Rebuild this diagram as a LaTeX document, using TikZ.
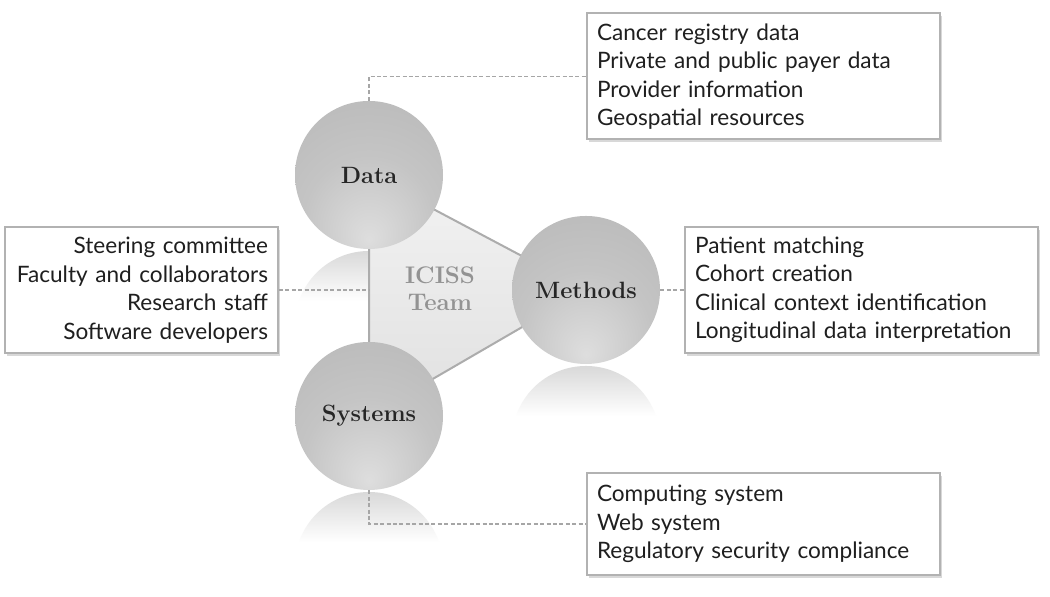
\documentclass[tikz,border=0pt]{standalone}
\usepackage{fontspec}
\newfontfamily\boxfont{Lato}
\usetikzlibrary{shadows}
% Kugel mit Lichtfleck unten
\pgfdeclareradialshading{sphere}{\pgfpoint{0bp}{-22bp}}{color(0bp)=(gray!26);color(22bp)=(gray!46);color(50bp)=(gray!58);color(75bp)=(gray!72)}
\tikzset{
  ball/.style={circle,minimum size=74pt,inner sep=0pt,shade,shading=sphere,
    font=\bfseries\fontsize{11.8}{13}\selectfont,text=black!85},
  infobox/.style={draw=gray!60,line width=1pt,fill=white,
    drop shadow={opacity=0.3,shadow xshift=1pt,shadow yshift=-1.5pt},
    inner sep=5pt,minimum height=63pt,text=black!88,
    font=\boxfont\fontsize{11.3}{14.25}\selectfont},
  link/.style={draw=gray!70,dash pattern=on 2pt off 1.2pt,line width=0.8pt}
}
\begin{document}
\begin{tikzpicture}[x=0.5pt,y=0.5pt]
\fill[white] (0,0) rectangle (1050,597);
\useasboundingbox (0,0) rectangle (1050,597);
\coordinate (d) at (369,422);
\coordinate (m) at (586,307);
\coordinate (s) at (369,181);

%Spiegelbilder
\foreach \cx/\cy in {369/422,586/307,369/181}{
  \begin{scope}
    \clip (\cx-80,\cy-74) rectangle (\cx+80,\cy-130);
    \clip (\cx,\cy-150) circle[radius=74];
    \shade[top color=gray!30,bottom color=white] (\cx-80,\cy-76) rectangle (\cx+80,\cy-126);
  \end{scope}
}

%Dreieck
\shade[top color=gray!10,bottom color=gray!24] (d) -- (m) -- (s) -- cycle;
\draw[gray!65,line width=1pt] (d) -- (m) -- (s) -- cycle;
\node[font=\bfseries\fontsize{12}{13.5}\selectfont,text=gray!85,align=center] (team) at (440,308) {ICISS\\Team};

\node[ball] (data) at (d) {Data};
\node[ball] (methods) at (m) {Methods};
\node[ball] (systems) at (s) {Systems};

\node[infobox,text width=166.5pt,align=left] (databox) at (763.5,520.5)
  {Cancer registry data\\Private and public payer data\\Provider information\\Geospatial resources};
\node[infobox,text width=166.5pt,align=left] (methodsbox) at (861.5,307)
  {Patient matching\\Cohort creation\\Clinical context identification\\Longitudinal data interpretation};
\node[infobox,text width=126.5pt,align=right] (teambox) at (141.5,307)
  {Steering committee\\Faculty and collaborators\\Research staff\\Software developers};
\node[infobox,text width=166.5pt,align=left,minimum height=51pt] (sysbox) at (763.5,73)
  {Computing system\\Web system\\Regulatory security compliance};

\draw[link] (data.north) |- (databox.west);
\draw[link] (teambox.east) -- (teambox.east -| d);
\draw[link] (methods.east) -- (methodsbox.west);
\draw[link] (systems.south) |- (sysbox.west);
\end{tikzpicture}
\end{document}
